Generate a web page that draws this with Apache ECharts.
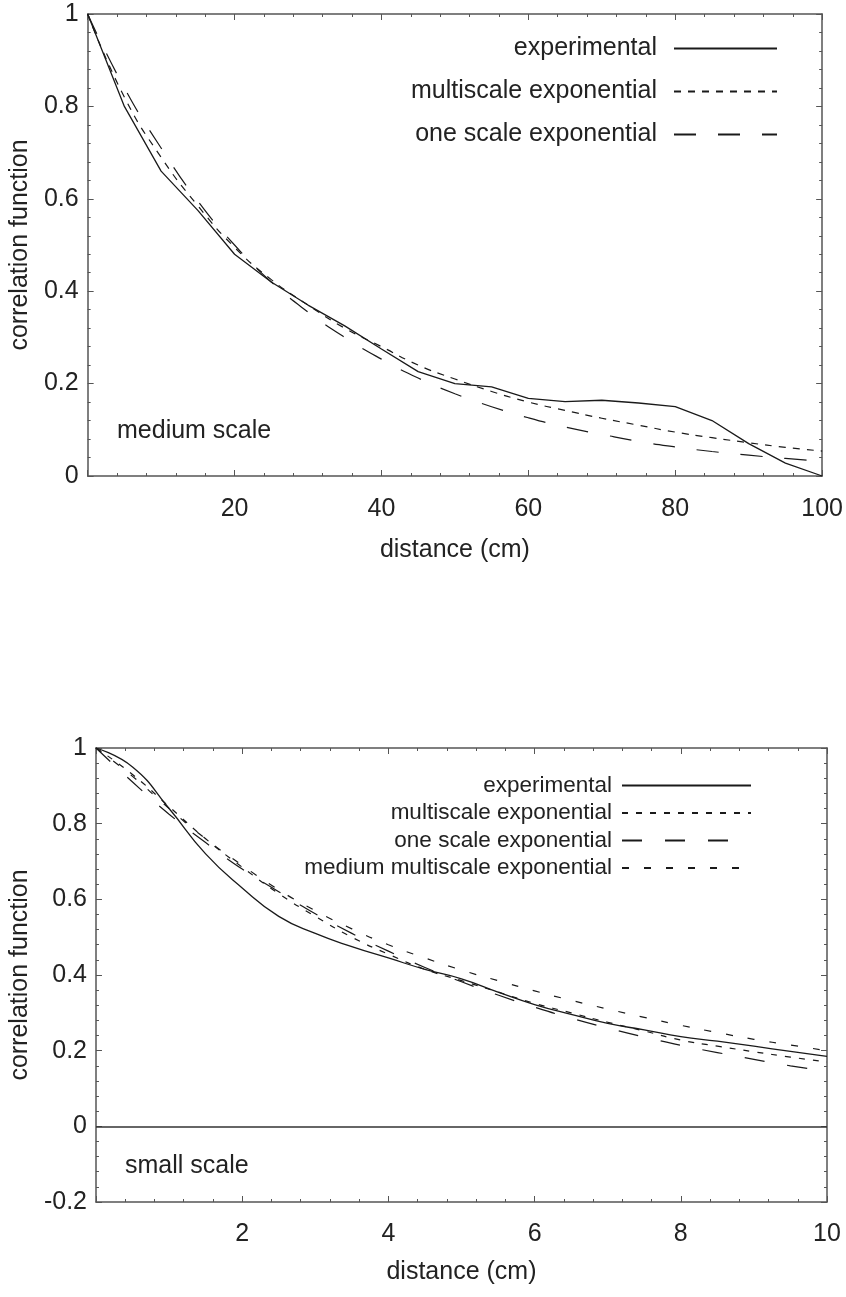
<!DOCTYPE html>
<html>
<head>
<meta charset="utf-8">
<script src="https://cdn.jsdelivr.net/npm/echarts@6/dist/echarts.min.js"></script>
<style>
  html, body { margin: 0; padding: 0; background: #fff; }
  #medium { position: absolute; left: 0; top: 0; width: 846px; height: 640px; }
  #small { position: absolute; left: 0; top: 640px; width: 846px; height: 657px; }
</style>
</head>
<body>
<div id="medium"></div>
<div id="small"></div>
<script>
// ---- medium scale panel (distance 0..100 cm) ----
const mediumDistance = [0, 5, 10, 15, 20, 25, 30, 35, 40, 45, 50, 55, 60, 65, 70, 75, 80, 85, 90, 95, 100];
const mediumExperimental = [1, 0.80, 0.66, 0.575, 0.48, 0.42, 0.37, 0.325, 0.275, 0.226, 0.20, 0.193, 0.168, 0.161, 0.164, 0.158, 0.150, 0.120, 0.070, 0.028, 0.0];
const mediumMultiscale = [1, 0.82, 0.69, 0.585, 0.495, 0.425, 0.37, 0.32, 0.28, 0.24, 0.21, 0.183, 0.16, 0.142, 0.125, 0.11, 0.095, 0.083, 0.072, 0.062, 0.054];
const mediumOneScale = [1, 0.84, 0.71, 0.595, 0.50, 0.42, 0.355, 0.30, 0.253, 0.212, 0.178, 0.15, 0.126, 0.106, 0.09, 0.075, 0.063, 0.053, 0.045, 0.038, 0.032];

// ---- small scale panel (distance 0..10 cm) ----
const smallDistance = [0, 0.5, 1, 1.5, 2, 2.5, 3, 3.5, 4, 4.5, 5, 5.5, 6, 6.5, 7, 7.5, 8, 8.5, 9, 9.5, 10];
const smallExperimental = [1, 0.95, 0.84, 0.72, 0.63, 0.555, 0.51, 0.475, 0.445, 0.415, 0.39, 0.355, 0.322, 0.296, 0.272, 0.255, 0.237, 0.225, 0.212, 0.198, 0.185];
const smallMultiscale = [1, 0.93, 0.845, 0.76, 0.685, 0.615, 0.555, 0.50, 0.455, 0.415, 0.385, 0.355, 0.325, 0.30, 0.275, 0.252, 0.228, 0.212, 0.197, 0.183, 0.17];
const smallOneScale = [1, 0.91, 0.825, 0.75, 0.68, 0.62, 0.562, 0.51, 0.463, 0.42, 0.382, 0.347, 0.315, 0.286, 0.26, 0.236, 0.214, 0.195, 0.177, 0.16, 0.146];
const smallMediumMultiscale = [1, 0.925, 0.84, 0.76, 0.69, 0.625, 0.57, 0.522, 0.48, 0.445, 0.413, 0.385, 0.358, 0.333, 0.31, 0.288, 0.267, 0.248, 0.23, 0.215, 0.20];

const seriesNames = ['experimental', 'multiscale exponential', 'one scale exponential', 'medium multiscale exponential'];
const yAxisName = 'correlation function';
const xAxisName = 'distance (cm)';
const panelLabels = ['medium scale', 'small scale'];

const FONT = '"Liberation Sans", Arial, Helvetica, sans-serif';
const INK = '#1a1a1a';
const FRAME = '#555';
const FS = 25;

const pairs = (xs, ys) => xs.map((x, i) => [x, ys[i]]);

function lineSeries(name, data, dash, smooth, extra) {
  return Object.assign({
    name: name,
    type: 'line',
    data: data,
    symbol: 'none',
    smooth: smooth,
    silent: true,
    color: INK,
    lineStyle: { color: INK, width: dash ? 1.2 : 1.3, type: dash || 'solid' }
  }, extra || {});
}

function axisPair(kind, min, max, interval, labelCfg, nameCfg) {
  const common = {
    type: 'value', min: min, max: max, interval: interval,
    axisLine: { show: true, onZero: false, lineStyle: { color: FRAME, width: 1.5 } },
    axisTick: { show: true, inside: true, length: 6, lineStyle: { color: FRAME, width: 1 } },
    minorTick: { show: true, splitNumber: 5, length: 3, lineStyle: { color: FRAME, width: 1 } },
    splitLine: { show: false }
  };
  const main = Object.assign({}, common, {
    position: kind === 'x' ? 'bottom' : 'left',
    axisLabel: Object.assign({ fontFamily: FONT, fontSize: FS, color: '#222' }, labelCfg),
    name: nameCfg.text, nameLocation: 'middle', nameGap: nameCfg.gap,
    nameRotate: kind === 'y' ? 90 : 0,
    nameTextStyle: { fontFamily: FONT, fontSize: FS, color: '#222' }
  });
  const mirror = Object.assign({}, common, {
    position: kind === 'x' ? 'top' : 'right',
    axisLabel: { show: false }
  });
  return [main, mirror];
}

function legendCfg(names, right, top, itemWidth, gap, fontSize, textGap) {
  return {
    orient: 'vertical', right: right, top: top, align: 'right',
    itemWidth: itemWidth, itemHeight: 12, itemGap: gap, padding: 0,
    selectedMode: false,
    itemStyle: { opacity: 0 },
    textStyle: { fontFamily: FONT, fontSize: fontSize, lineHeight: fontSize, color: '#222', padding: [0, textGap, 0, 0] },
    data: names
  };
}

// medium scale chart
const mediumChart = echarts.init(document.getElementById('medium'));
mediumChart.setOption({
  animation: false,
  grid: { left: 80, top: 14, width: 743, height: 462 },
  legend: legendCfg(seriesNames.slice(0, 3), 68, 36, 103, 18, FS, 12),
  xAxis: axisPair('x', 0, 100, 20,
    { margin: 21, formatter: v => (v === 0 ? '' : String(v)) },
    { text: xAxisName, gap: 62 }),
  yAxis: axisPair('y', 0, 1, 0.2, { margin: 9 }, { text: yAxisName, gap: 46 }),
  graphic: [{
    type: 'text', left: 117, top: 419,
    style: { text: panelLabels[0], font: FS + 'px ' + FONT, fill: '#222' }
  }],
  series: [
    lineSeries(seriesNames[0], pairs(mediumDistance, mediumExperimental), null, false),
    lineSeries(seriesNames[1], pairs(mediumDistance, mediumMultiscale), [7, 7], true),
    lineSeries(seriesNames[2], pairs(mediumDistance, mediumOneScale), [22, 22], true)
  ]
});

// small scale chart
const smallChart = echarts.init(document.getElementById('small'));
smallChart.setOption({
  animation: false,
  grid: { left: 86, top: 108, width: 741, height: 454 },
  legend: legendCfg(seriesNames, 94, 134, 129, 4.5, 22.5, 5),
  xAxis: axisPair('x', 0, 10, 2,
    { margin: 20, formatter: v => (v === 0 ? '' : String(v)) },
    { text: xAxisName, gap: 58 }),
  yAxis: axisPair('y', -0.2, 1, 0.2, { margin: 9 }, { text: yAxisName, gap: 52 }),
  graphic: [{
    type: 'text', left: 125, top: 514,
    style: { text: panelLabels[1], font: FS + 'px ' + FONT, fill: '#222' }
  }],
  series: [
    lineSeries(seriesNames[0], pairs(smallDistance, smallExperimental), null, true, {
      markLine: {
        silent: true, symbol: 'none', label: { show: false },
        lineStyle: { color: '#333', width: 1.5, type: 'solid' },
        data: [{ yAxis: 0 }]
      }
    }),
    lineSeries(seriesNames[1], pairs(smallDistance, smallMultiscale), [6, 8], true),
    lineSeries(seriesNames[2], pairs(smallDistance, smallOneScale), [20, 23], true),
    lineSeries(seriesNames[3], pairs(smallDistance, smallMediumMultiscale), [7, 15], true)
  ]
});
</script>
</body>
</html>
